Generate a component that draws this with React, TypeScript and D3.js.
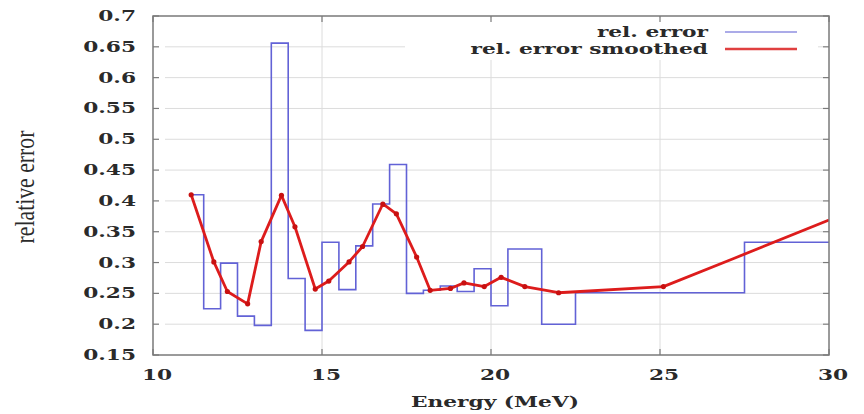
import React from "react";
import * as d3 from "d3";

// ---- data ----
const binEdges = [11.15, 11.5, 12.0, 12.5, 13.0, 13.5, 14.0, 14.5, 15.0, 15.5, 16.0, 16.5, 17.0, 17.5, 18.0, 18.5, 19.0, 19.5, 20.0, 20.5, 21.5, 22.5, 27.5, 30.0];
const relError = [0.41, 0.225, 0.299, 0.213, 0.198, 0.656, 0.274, 0.19, 0.333, 0.256, 0.327, 0.395, 0.459, 0.25, 0.255, 0.262, 0.253, 0.29, 0.23, 0.322, 0.2, 0.251, 0.333];
const smoothEnergy = [11.13, 11.8, 12.2, 12.8, 13.2, 13.8, 14.2, 14.8, 15.2, 15.8, 16.2, 16.8, 17.2, 17.8, 18.2, 18.8, 19.2, 19.8, 20.3, 21.0, 22.0, 25.1, 27.2, 30.0];
const smoothError = [0.41, 0.301, 0.253, 0.233, 0.334, 0.409, 0.358, 0.257, 0.27, 0.301, 0.326, 0.395, 0.379, 0.309, 0.255, 0.258, 0.267, 0.261, 0.276, 0.261, 0.251, 0.261, 0.307, 0.369];
const xTicks = [10, 15, 20, 25, 30];
const yTicks = [0.15, 0.2, 0.25, 0.3, 0.35, 0.4, 0.45, 0.5, 0.55, 0.6, 0.65, 0.7];
const yTickLabels = ["0.15", "0.2", "0.25", "0.3", "0.35", "0.4", "0.45", "0.5", "0.55", "0.6", "0.65", "0.7"];
const seriesNames = ["rel. error", "rel. error smoothed"];

const W = 864, H = 414;
const L = 153, R = 829, T = 16, B = 355;
const SX = 1.55;
const FONT = "'DejaVu Serif', serif";
const BLUE = "#6262d6";
const RED = "#dd1c1c";
const AXIS = "#7a7a7a";
const GRID = "#dcdcdc";

export default function App() {
  const x = d3.scaleLinear().domain([10, 30]).range([L, R]);
  const y = d3.scaleLinear().domain([0.15, 0.7]).range([B, T]);

  const stepPts: [number, number][] = [];
  relError.forEach((v, i) => {
    stepPts.push([binEdges[i], v]);
    stepPts.push([binEdges[i + 1], v]);
  });
  const lineGen = d3.line<[number, number]>().x(d => x(d[0])).y(d => y(d[1]));
  const stepPath = lineGen(stepPts) || "";
  const smoothPts: [number, number][] = smoothEnergy.map((e, i) => [e, smoothError[i]]);
  const smoothPath = lineGen(smoothPts) || "";
  const markerPts = smoothPts.filter((_, i) => i < smoothPts.length - 2);

  const legendBox = { x0: 405, x1: 818, y0: 18, y1: 60 };

  return (
    <svg width={W} height={H} style={{ position: "absolute", left: 0, top: 0, background: "#fff" }}>
      <defs>
        <clipPath id="plotclip">
          <rect x={L} y={T} width={R - L} height={B - T} />
        </clipPath>
      </defs>
      <rect x={0} y={0} width={W} height={H} fill="#fff" />
      {/* grid */}
      {yTicks.slice(1, -1).map(t => (
        <line key={"gy" + t} x1={L + 12} x2={R - 6} y1={y(t)} y2={y(t)} stroke={GRID} strokeWidth={1} />
      ))}
      {xTicks.slice(1, -1).map(t => (
        <line key={"gx" + t} x1={x(t)} x2={x(t)} y1={T} y2={B} stroke={GRID} strokeWidth={1} />
      ))}
      {/* legend background */}
      <rect x={legendBox.x0} y={legendBox.y0} width={legendBox.x1 - legendBox.x0} height={legendBox.y1 - legendBox.y0} fill="#fff" />
      {/* data */}
      <g clipPath="url(#plotclip)">
        <path d={stepPath} fill="none" stroke={BLUE} strokeWidth={1.6} />
        <path d={smoothPath} fill="none" stroke={RED} strokeWidth={2.8} strokeLinejoin="round" />
        {markerPts.map((p, i) => (
          <circle key={"m" + i} cx={x(p[0])} cy={y(p[1])} r={2.6} fill="#c81010" />
        ))}
      </g>
      {/* border */}
      <rect x={L} y={T} width={R - L} height={B - T} fill="none" stroke={AXIS} strokeWidth={1.5} />
      {/* y ticks */}
      {yTicks.map((t, i) => (
        <g key={"yt" + t}>
          <line x1={L} x2={L + 6} y1={y(t)} y2={y(t)} stroke={AXIS} strokeWidth={1.2} />
          <line x1={R - 6} x2={R} y1={y(t)} y2={y(t)} stroke={AXIS} strokeWidth={1.2} />
          <text transform={`translate(136,${y(t) + 5}) scale(${SX},1)`} textAnchor="end" fontFamily={FONT} fontWeight="bold" fontSize={14} fill="#2a2a2a">
            {yTickLabels[i]}
          </text>
        </g>
      ))}
      {/* x ticks */}
      {xTicks.map(t => (
        <g key={"xt" + t}>
          <line x1={x(t)} x2={x(t)} y1={B} y2={B - 6} stroke={AXIS} strokeWidth={1.2} />
          <line x1={x(t)} x2={x(t)} y1={T} y2={T + 6} stroke={AXIS} strokeWidth={1.2} />
          <text transform={`translate(${x(t) + 4},${380}) scale(${SX},1)`} textAnchor="middle" fontFamily={FONT} fontWeight="bold" fontSize={14} fill="#2a2a2a">
            {String(t)}
          </text>
        </g>
      ))}
      {/* axis titles */}
      <text transform={`translate(${(L + R) / 2 + 4},407) scale(${SX},1)`} textAnchor="middle" fontFamily={FONT} fontWeight="bold" fontSize={14} fill="#2a2a2a">
        Energy (MeV)
      </text>
      <text transform={`translate(34,187) scale(${SX},1) rotate(-90)`} textAnchor="middle" fontFamily="'Liberation Serif', serif" fontSize={17} fill="#2a2a2a" textLength={113} lengthAdjust="spacingAndGlyphs">
        relative error
      </text>
      {/* legend */}
      {seriesNames.map((name, i) => (
        <g key={"lg" + i}>
          <text transform={`translate(708,${37 + i * 17}) scale(${SX},1)`} textAnchor="end" fontFamily={FONT} fontWeight="bold" fontSize={14} fill="#2a2a2a">
            {name}
          </text>
          <line x1={725} x2={797} y1={32 + i * 17} y2={32 + i * 17} stroke={i === 0 ? "#8f8fe0" : "#e04040"} strokeWidth={i === 0 ? 1.5 : 2.6} />
        </g>
      ))}
    </svg>
  );
}
